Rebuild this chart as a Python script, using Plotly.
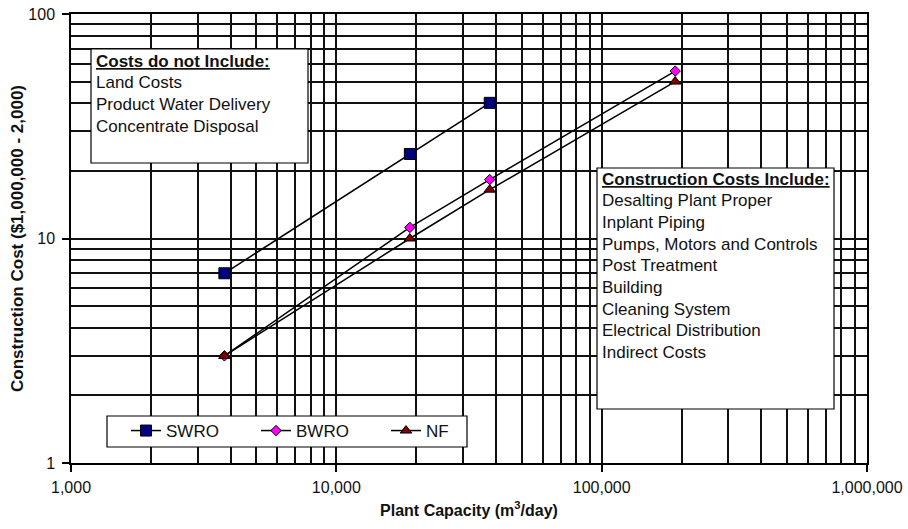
import plotly.graph_objects as go

# ---- data ----
capacity = [3785, 18927, 37854, 189271]
swro_cap = [3785, 18927, 37854]
swro = [7.0, 23.8, 40.2]
bwro = [3.0, 11.2, 18.3, 55.7]
nf = [3.0, 10.0, 16.5, 50.0]

x_tickvals = [1000, 10000, 100000, 1000000]
x_ticktext = ["1,000", "10,000", "100,000", "1,000,000"]
y_tickvals = [1, 10, 100]
y_ticktext = ["1", "10", "100"]

box1_lines = ["<b><u>Costs do not Include:</u></b>", "Land Costs",
              "Product Water Delivery", "Concentrate Disposal"]
box2_lines = ["<b><u>Construction Costs Include:</u></b>", "Desalting Plant Proper",
              "Inplant Piping", "Pumps, Motors and Controls", "Post Treatment",
              "Building", "Cleaning System", "Electrical Distribution", "Indirect Costs"]

# ---- layout geometry (pixels) ----
W, H = 908, 529
L, R, T, B = 71, 41, 14, 66
PW, PH = W - L - R, H - T - B
FONT = "Liberation Sans, Arial, sans-serif"
TXT = "#111111"
GRID = "#111111"


def px(x):
    return (x - L) / PW


def py(y):
    return (H - B - y) / PH


x_minor = [m * 10 ** e for e in (3, 4, 5) for m in range(2, 10)]
y_minor = [m * 10 ** e for e in (0, 1) for m in range(2, 10)]

fig = go.Figure()
fig.add_trace(go.Scatter(x=swro_cap, y=swro, name="SWRO", mode="lines+markers",
                         line=dict(color="black", width=1.5),
                         marker=dict(symbol="square", size=11, color="#000080",
                                     line=dict(color="black", width=1))))
fig.add_trace(go.Scatter(x=capacity, y=bwro, name="BWRO", mode="lines+markers",
                         line=dict(color="black", width=1.5),
                         marker=dict(symbol="diamond", size=8, color="#FF00FF",
                                     line=dict(color="black", width=1))))
fig.add_trace(go.Scatter(x=capacity, y=nf, name="NF", mode="lines+markers",
                         line=dict(color="black", width=1.5),
                         marker=dict(symbol="triangle-up", size=10, color="#800000",
                                     line=dict(color="black", width=1))))

axis_common = dict(showline=True, linecolor="black", linewidth=1.5, mirror=True,
                   showgrid=True, gridcolor=GRID, gridwidth=1.5,
                   ticks="outside", ticklen=7, tickcolor="black", tickwidth=1.5,
                   tickfont=dict(family=FONT, size=16, color=TXT), zeroline=False)

fig.update_xaxes(type="log", range=[3, 6], tickmode="array",
                 tickvals=x_tickvals, ticktext=x_ticktext,
                 minor=dict(tickmode="array", tickvals=x_minor, showgrid=True,
                            gridcolor=GRID, gridwidth=1.5, ticks=""),
                 title=dict(text="<b>Plant Capacity (m<sup>3</sup>/day)</b>",
                            font=dict(family=FONT, size=16, color=TXT), standoff=10),
                 ticklabelstandoff=2,
                 **axis_common)
fig.update_yaxes(type="log", range=[0, 2], tickmode="array",
                 tickvals=y_tickvals, ticktext=y_ticktext,
                 minor=dict(tickmode="array", tickvals=y_minor, showgrid=True,
                            gridcolor=GRID, gridwidth=1.5, ticks=""),
                 title=dict(text="<b>Construction Cost ($1,000,000 - 2,000)</b>",
                            font=dict(family=FONT, size=17, color=TXT), standoff=0),
                 ticklabelstandoff=4,
                 **axis_common)

shapes = []
annotations = []

# legend box
shapes.append(dict(type="rect", xref="paper", yref="paper",
                   x0=px(107), x1=px(467), y0=py(447), y1=py(416),
                   fillcolor="white", line=dict(color="black", width=1.2), layer="above"))

# text boxes
shapes.append(dict(type="rect", xref="paper", yref="paper",
                   x0=px(91), x1=px(308), y0=py(163), y1=py(49),
                   fillcolor="white", line=dict(color="black", width=1.2), layer="above"))
shapes.append(dict(type="rect", xref="paper", yref="paper",
                   x0=px(597), x1=px(834), y0=py(409), y1=py(168),
                   fillcolor="white", line=dict(color="black", width=1.2), layer="above"))

for i, t in enumerate(box1_lines):
    annotations.append(dict(text=t, xref="paper", yref="paper", x=px(94),
                            y=py(61 + 21.7 * i), xanchor="left", yanchor="middle",
                            showarrow=False, font=dict(family=FONT, size=17, color=TXT)))
for i, t in enumerate(box2_lines):
    annotations.append(dict(text=t, xref="paper", yref="paper", x=px(600),
                            y=py(179 + 21.7 * i), xanchor="left", yanchor="middle",
                            showarrow=False, font=dict(family=FONT, size=17, color=TXT)))

fig.update_layout(
    width=W, height=H,
    margin=dict(l=L, r=R, t=T, b=B, autoexpand=False),
    paper_bgcolor="white", plot_bgcolor="white",
    font=dict(family=FONT, size=16, color=TXT),
    showlegend=True,
    legend=dict(orientation="h", x=px(126), y=py(431), xanchor="left", yanchor="middle",
                bgcolor="rgba(0,0,0,0)", borderwidth=0,
                entrywidth=85, entrywidthmode="pixels",
                font=dict(family=FONT, size=17, color=TXT)),
    shapes=shapes, annotations=annotations,
)

fig.write_html("out.html", config={"displayModeBar": False},
               post_script="document.body.style.margin='0';")
